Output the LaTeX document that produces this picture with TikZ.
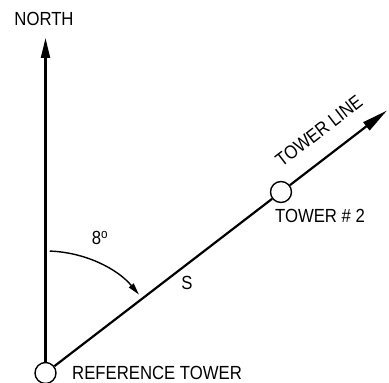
\documentclass[tikz,border=0pt]{standalone}
\usepackage{fontspec}
\setmainfont{Liberation Sans}[FakeStretch=0.88]
\usetikzlibrary{calc,arrows.meta}

\begin{document}
\begin{tikzpicture}[x=1pt,y=1pt,
    tower/.style={draw,circle,fill=white,line width=1.4pt,
                  minimum size=21pt,inner sep=0pt},
    axis/.style={-{Triangle[length=20pt,width=9pt]},line width=2.2pt},
    bearing/.style={-{Triangle[length=26pt,width=10pt]},line width=2.2pt},
    sweep/.style={-{Triangle[length=12pt,width=6pt]},line width=1.4pt},
    label/.style={font=\fontsize{19}{19}\selectfont,inner sep=0pt},
]

\useasboundingbox (0,0) rectangle (389,383);

% ---- Towers ----------------------------------------------------------------
\node[tower] (ref) at (45.5,10) {};
\node[tower] (tw2) at (281,191) {};

\coordinate (north) at (45.5,345);
\coordinate (tip) at ($(ref)!1.45!(tw2)$);

% ---- North and tower line --------------------------------------------------
\draw[axis] (ref) -- (north);
\draw[line width=2.2pt] (ref) -- (tw2);
\draw[bearing] (tw2) -- (tip);

% ---- Bearing arc -----------------------------------------------------------
\draw[sweep] ([shift={(88:122)}]ref.center) arc[start angle=88,end angle=40,radius=122];

% ---- Labels ----------------------------------------------------------------
\node[label] (lnorth) at (44,364) {NORTH};
\node[label,anchor=west] (lref) at (72,10) {REFERENCE TOWER};
\node[label] (ltw2) at (320,167) {TOWER \# 2};
\node[label,rotate=37.6] (lline) at (319,252) {TOWER LINE};
\node[label] (ls) at (187,100) {S};
\node[label] (lang) at (100,145) {8\textsuperscript{o}};

\end{tikzpicture}
\end{document}
